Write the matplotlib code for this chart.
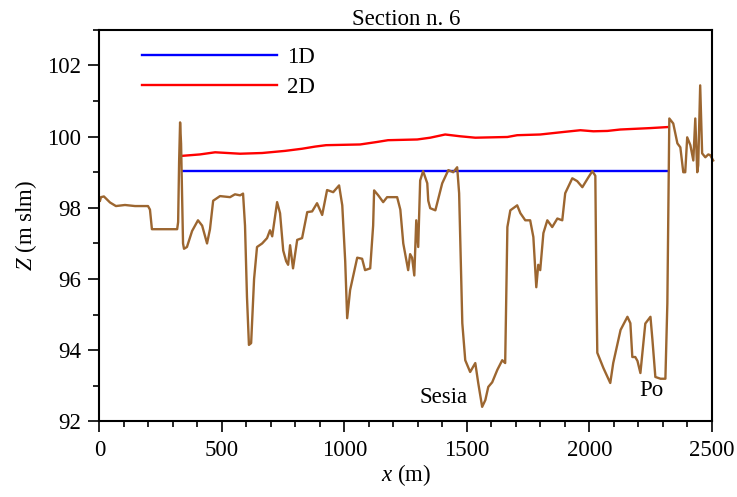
import matplotlib
matplotlib.use("Agg")
import matplotlib.pyplot as plt
from matplotlib.ticker import MultipleLocator

plt.rcParams['font.family'] = ['Liberation Serif', 'DejaVu Serif']
plt.rcParams['mathtext.fontset'] = 'custom'
plt.rcParams['mathtext.rm'] = 'Liberation Serif'
plt.rcParams['mathtext.it'] = 'Liberation Serif:italic'

# terrain profile (x in m, Z in m slm)
bed_x = [2, 6, 18, 43, 67, 104, 145, 198, 206, 214, 268, 317, 321, 325, 329, 333,
         341, 345, 357, 378, 402, 419, 439, 451, 464, 492, 533, 553, 574, 586,
         594, 602, 610, 619, 623, 631, 643, 664, 684, 696, 705, 725, 737, 750,
         762, 770, 778, 790, 807, 827, 848, 868, 888, 909, 929, 954, 978, 991,
         1003, 1011, 1023, 1052, 1072, 1084, 1105, 1117, 1121, 1138, 1158, 1174,
         1215, 1228, 1240, 1260, 1268, 1276, 1285, 1293, 1301, 1309, 1321, 1338,
         1342, 1350, 1371, 1399, 1424, 1444, 1460, 1468, 1481, 1493, 1513, 1534,
         1546, 1562, 1575, 1587, 1603, 1624, 1644, 1656, 1665, 1677, 1705, 1718,
         1738, 1758, 1771, 1783, 1791, 1799, 1812, 1828, 1848, 1869, 1889, 1901,
         1930, 1950, 1971, 1995, 2012, 2024, 2028, 2032, 2057, 2085, 2097, 2127,
         2155, 2167, 2175, 2187, 2196, 2208, 2220, 2228, 2249, 2257, 2269, 2290,
         2310, 2318, 2322, 2326, 2342, 2359, 2371, 2383, 2391, 2399, 2412, 2424,
         2432, 2440, 2444, 2452, 2460, 2473, 2485, 2493, 2505]
bed_z = [98.2, 98.3, 98.32, 98.15, 98.05, 98.08, 98.05, 98.05, 97.95, 97.4, 97.4,
         97.4, 97.6, 99.3, 100.4, 99.8, 97.0, 96.85, 96.9, 97.35, 97.65, 97.5,
         97.0, 97.4, 98.2, 98.33, 98.3, 98.38, 98.35, 98.4, 97.5, 95.5, 94.15,
         94.2, 94.8, 96.0, 96.9, 97.0, 97.15, 97.37, 97.2, 98.16, 97.85, 96.8,
         96.5, 96.4, 96.95, 96.3, 97.1, 97.15, 97.88, 97.9, 98.13, 97.8, 98.5,
         98.44, 98.63, 98.07, 96.5, 94.9, 95.69, 96.6, 96.57, 96.25, 96.3, 97.5,
         98.49, 98.35, 98.16, 98.3, 98.3, 97.95, 97.0, 96.25, 96.7, 96.6, 96.1,
         97.65, 96.9, 98.77, 99.03, 98.69, 98.2, 97.99, 97.93, 98.69, 99.06,
         99.0, 99.14, 98.41, 94.76, 93.72, 93.39, 93.64, 93.08, 92.41, 92.6,
         92.97, 93.1, 93.45, 93.72, 93.64, 97.46, 97.93, 98.07, 97.85, 97.65,
         97.65, 97.18, 95.77, 96.4, 96.25, 97.29, 97.65, 97.46, 97.7, 97.65,
         98.41, 98.83, 98.75, 98.58, 98.85, 99.03, 98.9, 96.0, 93.93, 93.5,
         93.08, 93.64, 94.57, 94.94, 94.76, 93.81, 93.81, 93.7, 93.36, 94.2,
         94.75, 94.94, 94.3, 93.25, 93.2, 93.2, 95.32, 98.02, 100.51, 100.37,
         99.81, 99.7, 99.0, 99.0, 99.98, 99.76, 99.33, 100.51, 99.0, 99.2,
         101.44, 99.53, 99.42, 99.5, 99.48, 99.33]

# 1D water level
wl1d_x = [339, 2322]
wl1d_z = [99.03, 99.03]

# 2D water level
wl2d_x = [337, 410, 472, 574, 664, 758, 827, 880, 925, 1064, 1133, 1178, 1297,
          1350, 1411, 1472, 1534, 1665, 1705, 1799, 1893, 1963, 2016, 2073,
          2126, 2249, 2322]
wl2d_z = [99.46, 99.5, 99.56, 99.52, 99.54, 99.6, 99.66, 99.72, 99.76, 99.78,
          99.85, 99.9, 99.92, 99.97, 100.06, 100.01, 99.97, 99.99, 100.04,
          100.06, 100.13, 100.18, 100.15, 100.16, 100.2, 100.24, 100.27]

fs = 16.5

fig = plt.figure(figsize=(7.37, 4.97), dpi=100)
ax = fig.add_axes([0.135, 0.152, 0.831, 0.788])

ax.plot(wl1d_x, wl1d_z, color='#0000FF', lw=1.7, label='1D')
ax.plot(wl2d_x, wl2d_z, color='#FF0000', lw=1.7, label='2D')
ax.plot(bed_x, bed_z, color='#9C6630', lw=1.7, clip_on=False)

ax.text(1403, 92.66, 'Sesia', fontsize=fs, ha='center', va='center')
ax.text(2253, 92.86, 'Po', fontsize=fs, ha='center', va='center')

ax.set_xlim(0, 2500)
ax.set_ylim(92, 103)
ax.xaxis.set_major_locator(MultipleLocator(500))
ax.xaxis.set_minor_locator(MultipleLocator(100))
ax.yaxis.set_major_locator(MultipleLocator(2))
ax.yaxis.set_minor_locator(MultipleLocator(1))
ax.tick_params(which='major', direction='out', length=8, width=1.2, labelsize=fs, pad=5)
ax.tick_params(which='minor', direction='out', length=4, width=1.2)
for s in ax.spines.values():
    s.set_linewidth(1.5)

ax.set_xlabel('$x$ (m)', fontsize=fs, labelpad=1)
ax.set_ylabel('$Z$ (m slm)', fontsize=fs, labelpad=6)
ax.set_title('Section n. 6', fontsize=fs, pad=2)

ax.legend(loc='upper left', bbox_to_anchor=(0.069, 0.955), frameon=False,
          fontsize=fs, handlelength=5.9, handletextpad=0.45, labelspacing=0.35,
          borderpad=0, borderaxespad=0)

plt.savefig('out.png', dpi=100)
